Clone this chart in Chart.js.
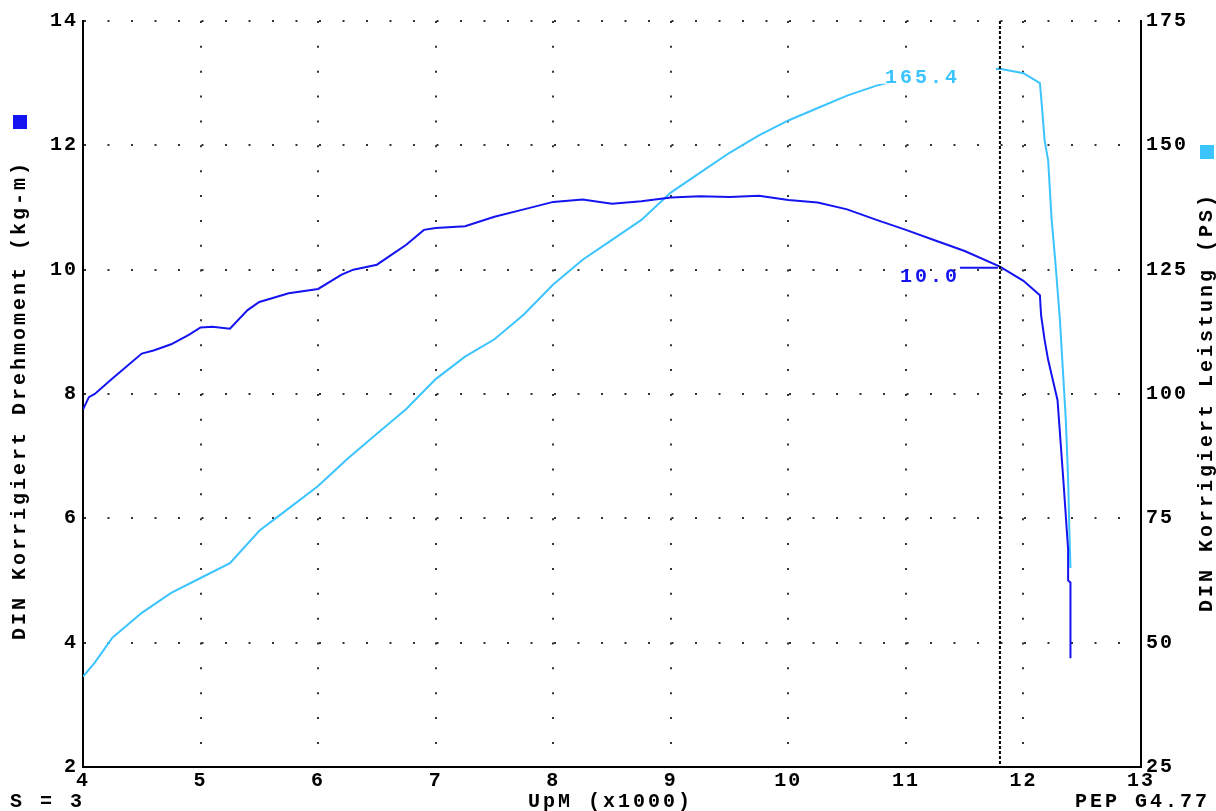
<!DOCTYPE html>
<html lang="de">
<head>
<meta charset="UTF-8">
<title>DIN Korrigiert Drehmoment / Leistung</title>
<style>
  body { margin: 0; background: #fff; }
</style>
</head>
<body>
<canvas id="dyno" width="1216" height="811"></canvas>

<script src="https://cdn.jsdelivr.net/npm/chart.js@4"></script>
<script>
// Drehmoment (kg-m) ueber UpM (x1000)
const rpmTorque = [4.0, 4.05, 4.1, 4.25, 4.5, 4.6, 4.75, 4.9, 5.0, 5.1, 5.25, 5.4, 5.5, 5.75, 6.0, 6.2, 6.3, 6.5, 6.75, 6.9, 7.0, 7.25, 7.5, 7.75,
                   8.0, 8.25, 8.5, 8.75, 9.0, 9.25, 9.5, 9.75, 10.0, 10.25, 10.5, 10.75, 11.0, 11.25, 11.5, 11.8,
                   12.0, 12.14, 12.15, 12.18, 12.21, 12.29, 12.34, 12.38, 12.38, 12.40, 12.40]
const torque = [7.75, 7.95, 8.0, 8.25, 8.65, 8.7, 8.8, 8.95, 9.07, 9.08, 9.05, 9.35, 9.48, 9.62, 9.69, 9.92, 10.0, 10.08, 10.4, 10.64, 10.67, 10.7, 10.85, 10.97,
                11.09, 11.13, 11.06, 11.1, 11.16, 11.18, 11.17, 11.19, 11.12, 11.08, 10.97, 10.8, 10.64, 10.47, 10.3, 10.05,
                9.82, 9.59, 9.27, 8.87, 8.55, 7.9, 6.6, 5.5, 5.0, 4.97, 3.75]

// Leistung (PS) ueber UpM (x1000)
const rpmPower = [4.0, 4.1, 4.25, 4.5, 4.75, 5.0, 5.25, 5.5, 5.75, 6.0, 6.25, 6.5, 6.75, 7.0, 7.25, 7.5, 7.75,
                  8.0, 8.25, 8.5, 8.75, 9.0, 9.25, 9.5, 9.75, 10.0, 10.25, 10.5, 10.75, 11.0, 11.25, 11.5, 11.8,
                  12.0, 12.14, 12.16, 12.18, 12.21, 12.24, 12.27, 12.31, 12.33, 12.36, 12.38, 12.39, 12.40]
const power = [43.2, 46, 51, 56, 60, 63, 66, 72.5, 77, 81.5, 87, 92, 97, 103, 107.5, 111, 116,
               122, 127, 131, 135, 140.5, 144.5, 148.5, 152, 155, 157.5, 160, 162, 163.5, 164.5, 165, 165.4,
               164.5, 162.5, 157, 151, 147, 135, 127, 115, 107, 95, 83, 73, 65]

const cursorRpm = 11.8
const cursorTorque = '10.0'
const cursorPower = '165.4'

const FONT = 'Liberation Mono'
const BLUE = '#1414f0'
const CYAN = '#3cc4ff'

const pts = (xs, ys) => xs.map((x, i) => ({ x: x, y: ys[i] }))

// Beschriftungen, Cursorlinie und Werte am Cursor
const extras = {
  id: 'extras',
  beforeDraw(chart) {
    chart.ctx.letterSpacing = '2px'
  },
  afterDatasetsDraw(chart) {
    const ctx = chart.ctx
    const a = chart.chartArea
    const xs = chart.scales.x, ys = chart.scales.y, ys1 = chart.scales.y1
    const cx = xs.getPixelForValue(cursorRpm)
    ctx.save()
    ctx.letterSpacing = '3px'
    ctx.font = 'bold 20px ' + FONT

    // Leistung am Cursor (Text ueberdeckt die Kurve)
    const py = ys1.getPixelForValue(parseFloat(cursorPower))
    ctx.fillStyle = '#fff'
    ctx.fillRect(cx - 120, py - 3, 116, 18)
    ctx.fillStyle = CYAN
    ctx.textAlign = 'right'
    ctx.textBaseline = 'alphabetic'
    ctx.fillText(cursorPower, cx - 40, py + 14)

    // Drehmoment am Cursor mit Hinweislinie
    const ty = ys.getPixelForValue(parseFloat(cursorTorque))
    ctx.strokeStyle = BLUE
    ctx.lineWidth = 2
    ctx.beginPath()
    ctx.moveTo(cx - 40, ty - 2)
    ctx.lineTo(cx - 2, ty - 2)
    ctx.stroke()
    ctx.fillStyle = BLUE
    ctx.fillText(cursorTorque, cx - 40, ty + 12)

    // Cursorlinie
    ctx.strokeStyle = '#000'
    ctx.lineWidth = 2
    ctx.setLineDash([3, 2])
    ctx.beginPath()
    ctx.moveTo(cx, a.top)
    ctx.lineTo(cx, a.bottom)
    ctx.stroke()
    ctx.restore()
  },
  afterDraw(chart) {
    const ctx = chart.ctx
    ctx.save()
    ctx.fillStyle = '#000'
    ctx.font = 'bold 20px ' + FONT
    ctx.letterSpacing = '3px'
    ctx.textBaseline = 'middle'
    ctx.textAlign = 'center'

    ctx.save()
    ctx.translate(20, 400)
    ctx.rotate(-Math.PI / 2)
    ctx.fillText('DIN Korrigiert Drehmoment (kg-m)', 0, 0)
    ctx.restore()

    ctx.save()
    ctx.translate(1207, 402)
    ctx.rotate(-Math.PI / 2)
    ctx.fillText('DIN Korrigiert Leistung (PS)', 0, 0)
    ctx.restore()

    // Legendenkaestchen
    ctx.fillStyle = BLUE
    ctx.fillRect(13, 115, 14, 14)
    ctx.fillStyle = CYAN
    ctx.fillRect(1200, 145, 14, 14)

    ctx.fillStyle = '#000'
    ctx.textBaseline = 'alphabetic'
    ctx.textAlign = 'left'
    ctx.fillText('S = 3', 10, 807)
    ctx.fillText('UpM (x1000)', 528, 807)
    ctx.fillText('PEP G4.77', 1075, 807)
    ctx.restore()
  }
}

const tickFont = { family: FONT, size: 20, weight: 'bold' }

new Chart(document.getElementById('dyno'), {
  type: 'line',
  data: {
    datasets: [
      { data: pts(rpmTorque, torque), yAxisID: 'y', borderColor: BLUE, borderWidth: 2, pointRadius: 0, tension: 0 },
      { data: pts(rpmPower, power), yAxisID: 'y1', borderColor: CYAN, borderWidth: 2, pointRadius: 0, tension: 0 }
    ]
  },
  options: {
    responsive: false,
    animation: false,
    devicePixelRatio: 1,
    layout: { padding: { top: 21, left: 0, right: 0, bottom: 0 } },
    plugins: { legend: { display: false }, tooltip: { enabled: false } },
    scales: {
      x: {
        type: 'linear', min: 4, max: 13,
        ticks: { stepSize: 1, color: '#000', font: tickFont, padding: 2, maxRotation: 0 },
        grid: { color: '#333', lineWidth: 2, drawTicks: false },
        border: { display: true, color: '#000', width: 2, dash: [2, 22.86] },
        afterFit: s => { s.height = 44 }
      },
      y: {
        position: 'left', min: 2, max: 14,
        ticks: { stepSize: 2, color: '#000', font: tickFont, padding: 5 },
        grid: { color: '#333', lineWidth: 2, drawTicks: false },
        border: { display: true, color: '#000', width: 2, dash: [2, 21.5] },
        afterFit: s => { s.width = 83 }
      },
      y1: {
        position: 'right', min: 25, max: 175,
        ticks: { stepSize: 25, color: '#000', font: tickFont, padding: 5 },
        grid: { display: false, drawTicks: false },
        border: { display: true, color: '#000', width: 2 },
        afterFit: s => { s.width = 75 }
      }
    }
  },
  plugins: [extras]
})
</script>
</body>
</html>
